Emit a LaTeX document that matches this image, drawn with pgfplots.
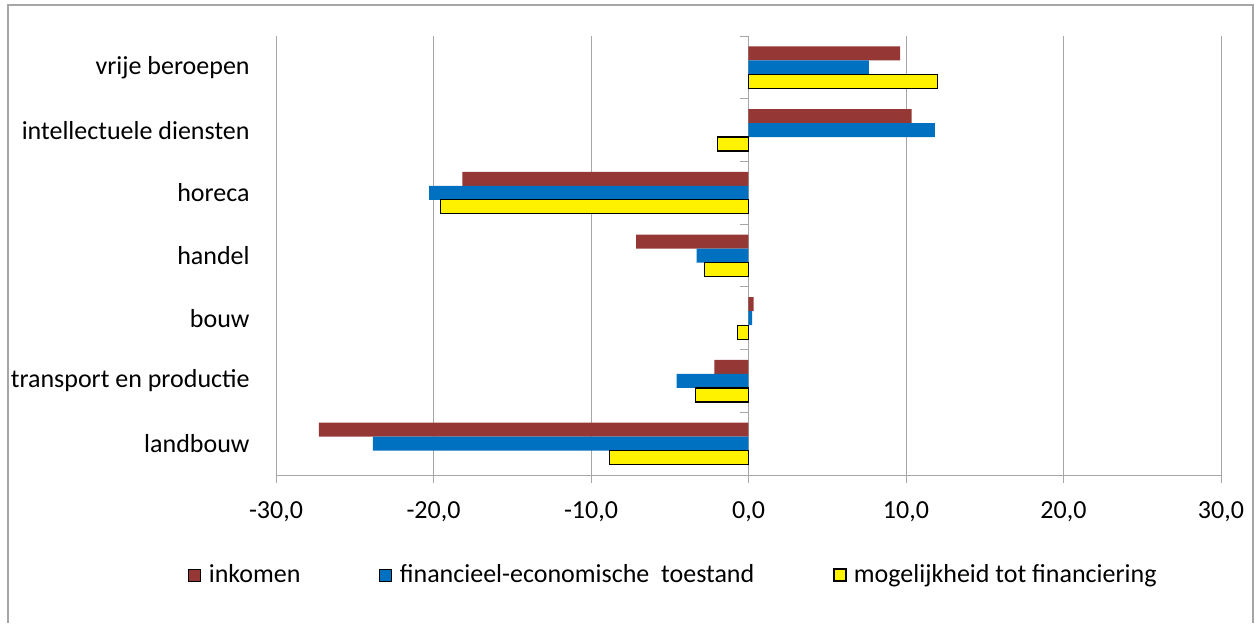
\documentclass[border=0pt]{standalone}
\usepackage{pgfplots}
\usepackage{pgfplotstable}
\pgfplotsset{compat=1.18}
\usepackage{fontspec}
\setmainfont{Carlito}

\definecolor{inkred}{HTML}{953735}
\definecolor{inkblue}{HTML}{0070C0}
\definecolor{gridgray}{HTML}{A6A6A6}

% 0 = landbouw (bottom) ... 6 = vrije beroepen (top)
\pgfplotstableread{
cat inkomen fin mog
0 -27.28 -23.85 -8.83
1 -2.16 -4.57 -3.34
2 0.32 0.23 -0.70
3 -7.13 -3.30 -2.77
4 -18.16 -20.27 -19.56
5 10.35 11.83 -1.99
6 9.63 7.64 12.02
}\data

\begin{document}
\begin{tikzpicture}[font=\fontsize{13}{15}\selectfont]
\path[use as bounding box] (0,0) rectangle (627.5pt,-311.5pt);

\begin{axis}[%
at={(138pt,-237.5pt)},
anchor=south west,
scale only axis,
width=472.5pt,
height=219.5pt,
xbar,
bar width=7pt,
xmin=-30,
xmax=30,
ymin=-0.5,
ymax=6.5,
xtick={-30,-20,...,30},
ytick={0,...,6},
yticklabels={landbouw,transport en productie,bouw,handel,horeca,intellectuele diensten,vrije beroepen},
axis x line*=bottom,
axis y line*=left,
y axis line style={draw=none},
x axis line style={gridgray},
ytick style={draw=none},
xtick style={gridgray},
tick align=outside,
major tick length=4pt,
xmajorgrids,
major grid style={gridgray},
/pgf/number format/.cd, fixed, fixed zerofill, precision=1, use comma, assume math mode=true,
/pgfplots/.cd,
x tick label style={font=\fontsize{13}{15}\selectfont, inner sep=0pt, anchor=north, yshift=-9.25pt},
y tick label style={font=\fontsize{13}{15}\selectfont, inner sep=0pt, anchor=east, xshift=-9pt},
legend columns=3,
legend style={draw=none, fill=none, at={(-0.0931,-0.2278)}, anchor=west,
  inner xsep=0pt, inner ysep=0pt, font=\fontsize{13}{15}\selectfont,
  /tikz/every even column/.append style={column sep=37.5pt}},
legend image code/.code={\path[draw=none, fill=none] (0pt,0pt) -- (8pt,0pt); \draw[#1] (0pt,-3pt) rectangle (6pt,3pt);},
]
\addplot[fill=inkred, draw=none, bar shift=7pt] table[x=inkomen, y=cat] {\data};
\addlegendentry{inkomen}
\addplot[fill=inkblue, draw=none, bar shift=0pt] table[x=fin, y=cat] {\data};
\addlegendentry{financieel-economische\ \ toestand}
\addplot[fill=yellow, draw=black, line width=0.6pt, bar shift=-7pt] table[x=mog, y=cat] {\data};
\addlegendentry{mogelijkheid tot financiering}

\pgfplotsinvokeforeach{-0.5,0.5,...,6.5}{
  \draw[gridgray] (axis cs:0,#1) -- ([xshift=-4pt]axis cs:0,#1);
}
\end{axis}

\draw[gridgray, line width=0.8pt] (4pt,-311.5pt) -- (4pt,-2.5pt) -- (626.5pt,-2.5pt) -- (626.5pt,-311.5pt);
\end{tikzpicture}
\end{document}
